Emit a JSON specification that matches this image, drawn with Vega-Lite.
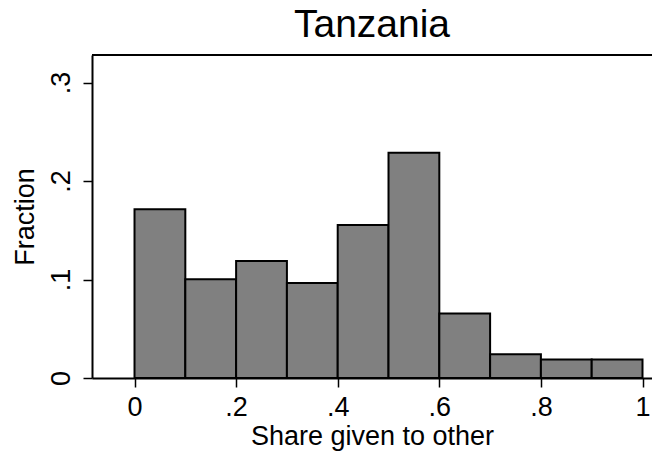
{
  "$schema": "https://vega.github.io/schema/vega-lite/v6.json",
  "autosize": {"type": "none"},
  "padding": {"left": 92, "top": 55, "right": 0, "bottom": 75},
  "width": 560,
  "height": 323,
  "background": "white",
  "config": {
    "view": {"stroke": null},
    "font": "Liberation Sans",
    "axis": {"grid": false, "domainColor": "black", "domainWidth": 2, "tickColor": "black", "tickWidth": 1.5, "tickSize": 9, "labelFont": "Liberation Sans", "labelFontSize": 27, "labelColor": "black", "titleFont": "Liberation Sans", "titleFontSize": 27, "titleFontWeight": "normal", "titleColor": "black"}
  },
  "title": {"text": "Tanzania", "fontSize": 39, "fontWeight": "normal", "font": "Liberation Sans", "color": "black", "anchor": "middle", "offset": 9},
  "data": {"values": [
    {"bin_start": 0.0, "bin_end": 0.1, "fraction": 0.1713},
    {"bin_start": 0.1, "bin_end": 0.2, "fraction": 0.1002},
    {"bin_start": 0.2, "bin_end": 0.3, "fraction": 0.1188},
    {"bin_start": 0.3, "bin_end": 0.4, "fraction": 0.0964},
    {"bin_start": 0.4, "bin_end": 0.5, "fraction": 0.1553},
    {"bin_start": 0.5, "bin_end": 0.6, "fraction": 0.2288},
    {"bin_start": 0.6, "bin_end": 0.7, "fraction": 0.0654},
    {"bin_start": 0.7, "bin_end": 0.8, "fraction": 0.024},
    {"bin_start": 0.8, "bin_end": 0.9, "fraction": 0.0187},
    {"bin_start": 0.9, "bin_end": 1.0, "fraction": 0.0187}
  ]},
  "layer": [
    {
      "mark": {"type": "rect", "fill": "#808080", "stroke": "black", "strokeWidth": 2},
      "encoding": {
        "x": {"field": "bin_start", "type": "quantitative",
              "scale": {"domain": [-0.0837, 1.0187], "nice": false, "zero": false},
              "axis": {"values": [0, 0.2, 0.4, 0.6, 0.8, 1], "labelExpr": "datum.value == 0 ? '0' : datum.value == 1 ? '1' : substring(format(datum.value, '.1f'), 1)", "title": "Share given to other", "labelPadding": 7, "titlePadding": 3, "labelFlush": false}},
        "x2": {"field": "bin_end"},
        "y": {"field": "fraction", "type": "quantitative",
              "scale": {"domain": [0, 0.328], "nice": false},
              "axis": {"values": [0, 0.1, 0.2, 0.3], "labelExpr": "datum.value == 0 ? '0' : substring(format(datum.value, '.1f'), 1)", "labelAngle": -90, "labelAlign": "center", "labelBaseline": "bottom", "labelPadding": 8, "title": "Fraction", "titlePadding": 8}},
        "y2": {"datum": 0}
      }
    },
    {
      "mark": {"type": "rule", "color": "black", "strokeWidth": 2},
      "encoding": {"y": {"datum": 0.328}}
    }
  ]
}
